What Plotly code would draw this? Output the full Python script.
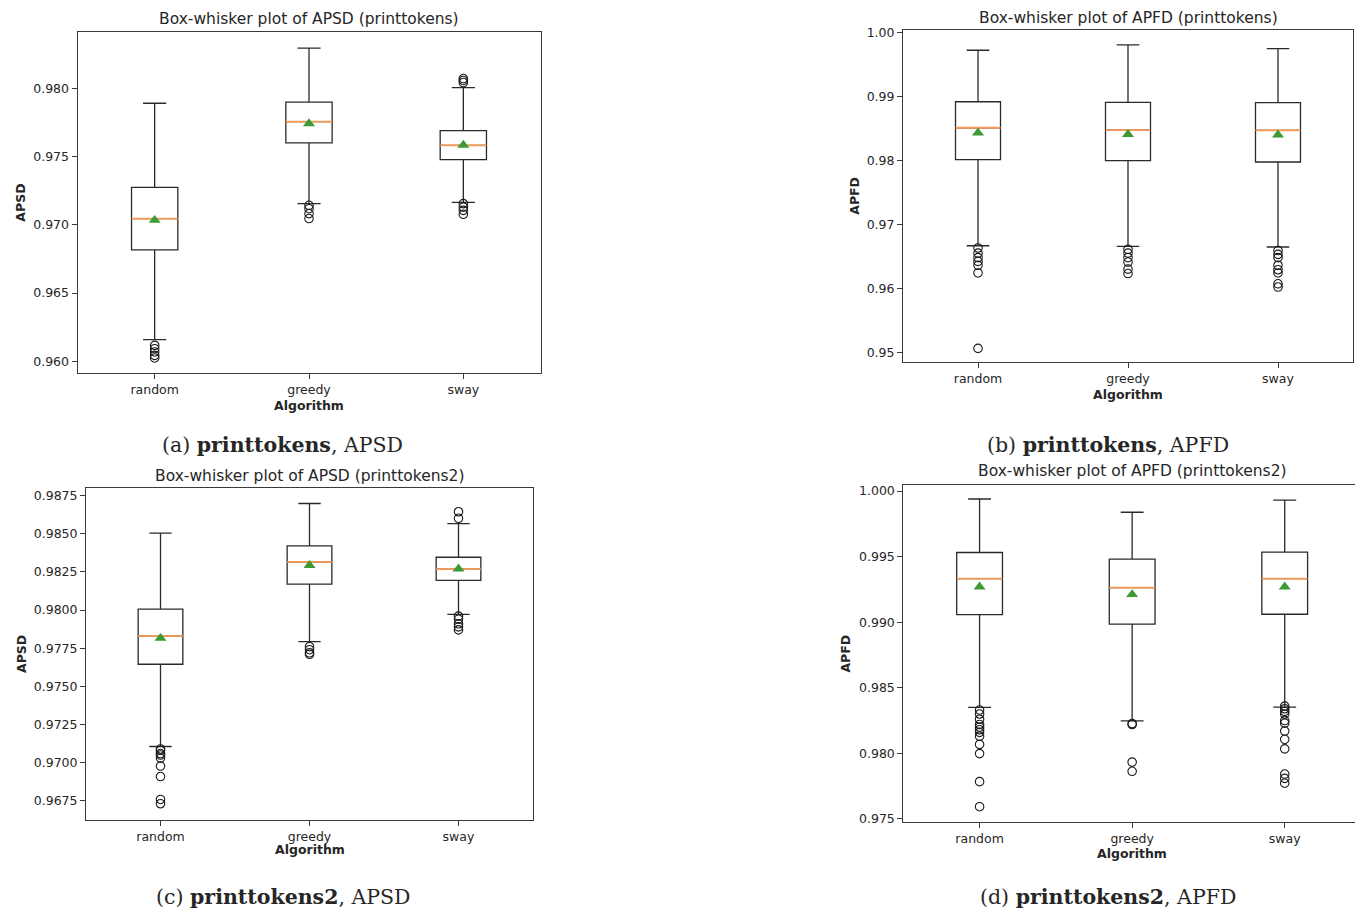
import plotly.graph_objects as go

# page body has an 8px default margin; figure is laid out so that its
# pixels line up with the 1363x915 window
OFF = 8
W, H = 1363 - OFF, 915 - OFF

categories = ["random", "greedy", "sway"]
positions = [1, 2, 3]

# (a) printtokens APSD
a_hi = [0.97891, 0.98295, 0.98005]
a_q3 = [0.97275, 0.97899, 0.97691]
a_med = [0.97046, 0.97756, 0.97582]
a_mean = [0.97034, 0.97742, 0.97585]
a_q1 = [0.96816, 0.97601, 0.97478]
a_lo = [0.96159, 0.97155, 0.97164]
a_out = [
    [0.96116, 0.96092, 0.96068, 0.96043, 0.96024],
    [0.97143, 0.97118, 0.97082, 0.97046],
    [0.98072, 0.98058, 0.98043, 0.97155, 0.97130, 0.97106, 0.97077],
]

# (b) printtokens APFD
b_hi = [0.99721, 0.99804, 0.99747]
b_q3 = [0.98916, 0.98906, 0.98901]
b_med = [0.98509, 0.98473, 0.98468]
b_mean = [0.98431, 0.98406, 0.98400]
b_q1 = [0.98010, 0.97995, 0.97974]
b_lo = [0.96665, 0.96655, 0.96645]
b_out = [
    [0.9663, 0.9655, 0.9648, 0.9642, 0.9636, 0.9624, 0.9506],
    [0.9661, 0.9655, 0.9648, 0.9641, 0.9630, 0.9623],
    [0.9659, 0.9653, 0.9648, 0.9636, 0.9629, 0.9624, 0.9607, 0.9602],
]

# (c) printtokens2 APSD
c_hi = [0.98504, 0.98698, 0.98566]
c_q3 = [0.98006, 0.98421, 0.98346]
c_med = [0.97831, 0.98315, 0.98268]
c_mean = [0.97816, 0.98293, 0.98270]
c_q1 = [0.97645, 0.98170, 0.98194]
c_lo = [0.97106, 0.97793, 0.97972]
c_out = [
    [0.9709, 0.9708, 0.9706, 0.9705, 0.9703, 0.96978, 0.96909, 0.96759, 0.96731],
    [0.9776, 0.9774, 0.9772, 0.9771],
    [0.98644, 0.98601, 0.9796, 0.9794, 0.9791, 0.9789, 0.9787],
]

# (d) printtokens2 APFD
d_hi = [0.99940, 0.99839, 0.99932]
d_q3 = [0.99532, 0.99481, 0.99534]
d_med = [0.99333, 0.99264, 0.99333]
d_mean = [0.99270, 0.99212, 0.99270]
d_q1 = [0.99058, 0.98985, 0.99061]
d_lo = [0.98351, 0.98247, 0.98353]
d_out = [
    [0.9833, 0.9830, 0.9826, 0.9822, 0.9820, 0.9818, 0.9816, 0.9813,
     0.98068, 0.97998, 0.97784, 0.97593],
    [0.98227, 0.9822, 0.97933, 0.97863],
    [0.9836, 0.9834, 0.9832, 0.9830, 0.98250, 0.9823, 0.98170, 0.98107,
     0.98034, 0.97842, 0.97809, 0.97772],
]

titles = [
    "Box-whisker plot of APSD (printtokens)",
    "Box-whisker plot of APFD (printtokens)",
    "Box-whisker plot of APSD (printtokens2)",
    "Box-whisker plot of APFD (printtokens2)",
]
ylabels = ["APSD", "APFD", "APSD", "APFD"]
captions = [
    "(a) <b>printtokens</b>, APSD",
    "(b) <b>printtokens</b>, APFD",
    "(c) <b>printtokens2</b>, APSD",
    "(d) <b>printtokens2</b>, APFD",
]

panels = [
    dict(hi=a_hi, q3=a_q3, med=a_med, mean=a_mean, q1=a_q1, lo=a_lo, out=a_out,
         yr=[0.95911, 0.98411], dtick=0.005, fmt=".3f",
         frame=(77.5, 540.5, 27.5, 372), title=(309, 14), ylab=(19.6, 200),
         xlab=(309, 404), cap=(282.5, 444)),
    dict(hi=b_hi, q3=b_q3, med=b_med, mean=b_mean, q1=b_q1, lo=b_lo, out=b_out,
         yr=[0.9484, 1.0004], dtick=0.01, fmt=".2f",
         frame=(903, 1353, 25, 361), title=(1128, 12.7), ylab=(854.6, 193),
         xlab=(1128, 393), cap=(1108, 444)),
    dict(hi=c_hi, q3=c_q3, med=c_med, mean=c_mean, q1=c_q1, lo=c_lo, out=c_out,
         yr=[0.96627, 0.98800], dtick=0.0025, fmt=".4f",
         frame=(86, 533, 487.7, 822.7), title=(309.5, 475.7), ylab=(21.4, 655),
         xlab=(309.5, 853), cap=(283, 901)),
    dict(hi=d_hi, q3=d_q3, med=d_med, mean=d_mean, q1=d_q1, lo=d_lo, out=d_out,
         yr=[0.97477, 1.0005], dtick=0.005, fmt=".3f",
         frame=(903.3, 1361, 484.3, 825), title=(1132, 471), ylab=(846, 655),
         xlab=(1132, 857), cap=(1108, 901)),
]


def fx(px):
    return (px - OFF) / W


def fy(py):
    return 1 - (py - OFF) / H


BOXW = 0.3
fig = go.Figure()
annotations = []
TXT = "#262626"
FONT = "DejaVu Sans"

for i, p in enumerate(panels):
    n = "" if i == 0 else str(i + 1)
    xa, ya = "x" + n, "y" + n
    fig.add_trace(go.Box(
        x=positions, q1=p["q1"], median=p["med"], q3=p["q3"],
        lowerfence=p["lo"], upperfence=p["hi"],
        width=BOXW, whiskerwidth=0.5, fillcolor="white",
        line=dict(color="#2a2a2a", width=1.3), boxpoints=False,
        xaxis=xa, yaxis=ya, showlegend=False, hoverinfo="skip"))
    for k, pos in enumerate(positions):
        # outliers
        fig.add_trace(go.Scatter(
            x=[pos] * len(p["out"][k]), y=p["out"][k], mode="markers",
            marker=dict(symbol="circle-open", size=8.5, color="#1a1a1a",
                        line=dict(width=1.1, color="#1a1a1a")),
            xaxis=xa, yaxis=ya, showlegend=False, hoverinfo="skip"))
        # median line
        fig.add_trace(go.Scatter(
            x=[pos - BOXW / 2, pos + BOXW / 2], y=[p["med"][k], p["med"][k]],
            mode="lines", line=dict(color="#f79a55", width=1.8),
            xaxis=xa, yaxis=ya, showlegend=False, hoverinfo="skip"))
    # means
    fig.add_trace(go.Scatter(
        x=positions, y=p["mean"], mode="markers",
        marker=dict(symbol="triangle-up", size=10.5, color="#3d9a35"),
        xaxis=xa, yaxis=ya, showlegend=False, hoverinfo="skip"))

    l, r, t, b = p["frame"]
    axcommon = dict(showline=True, linecolor="#3a3a3a", linewidth=1, mirror=True,
                    ticks="outside", ticklen=5, tickcolor="#3a3a3a", tickwidth=1,
                    showgrid=False, zeroline=False,
                    tickfont=dict(family=FONT, size=12.5, color=TXT))
    fig.update_layout(**{
        ("xaxis" + n): dict(domain=[fx(l), fx(r)], range=[0.5, 3.5],
                            tickvals=positions, ticktext=categories,
                            anchor=ya, **axcommon),
        ("yaxis" + n): dict(domain=[fy(b), fy(t)], range=p["yr"],
                            dtick=p["dtick"], tick0=0, tickformat=p["fmt"],
                            anchor=xa, **axcommon),
    })

    def ann(text, pos, size, bold=False, angle=0, family=FONT):
        annotations.append(dict(
            text=("<b>%s</b>" % text) if bold else text,
            x=fx(pos[0]), y=fy(pos[1]), xref="paper", yref="paper",
            xanchor="center", yanchor="middle", showarrow=False, textangle=angle,
            font=dict(family=family, size=size, color=TXT)))

    ann(titles[i], p["title"], 15.5)
    ann(ylabels[i], p["ylab"], 12.5, bold=True, angle=-90)
    ann("Algorithm", p["xlab"], 12.5, bold=True)
    ann(captions[i], p["cap"], 20.5, family="DejaVu Serif")

fig.update_layout(
    width=W, height=H, margin=dict(l=0, r=0, t=0, b=0),
    paper_bgcolor="white", plot_bgcolor="white",
    annotations=annotations, showlegend=False, boxmode="overlay",
)

fig.write_html("out.html")
